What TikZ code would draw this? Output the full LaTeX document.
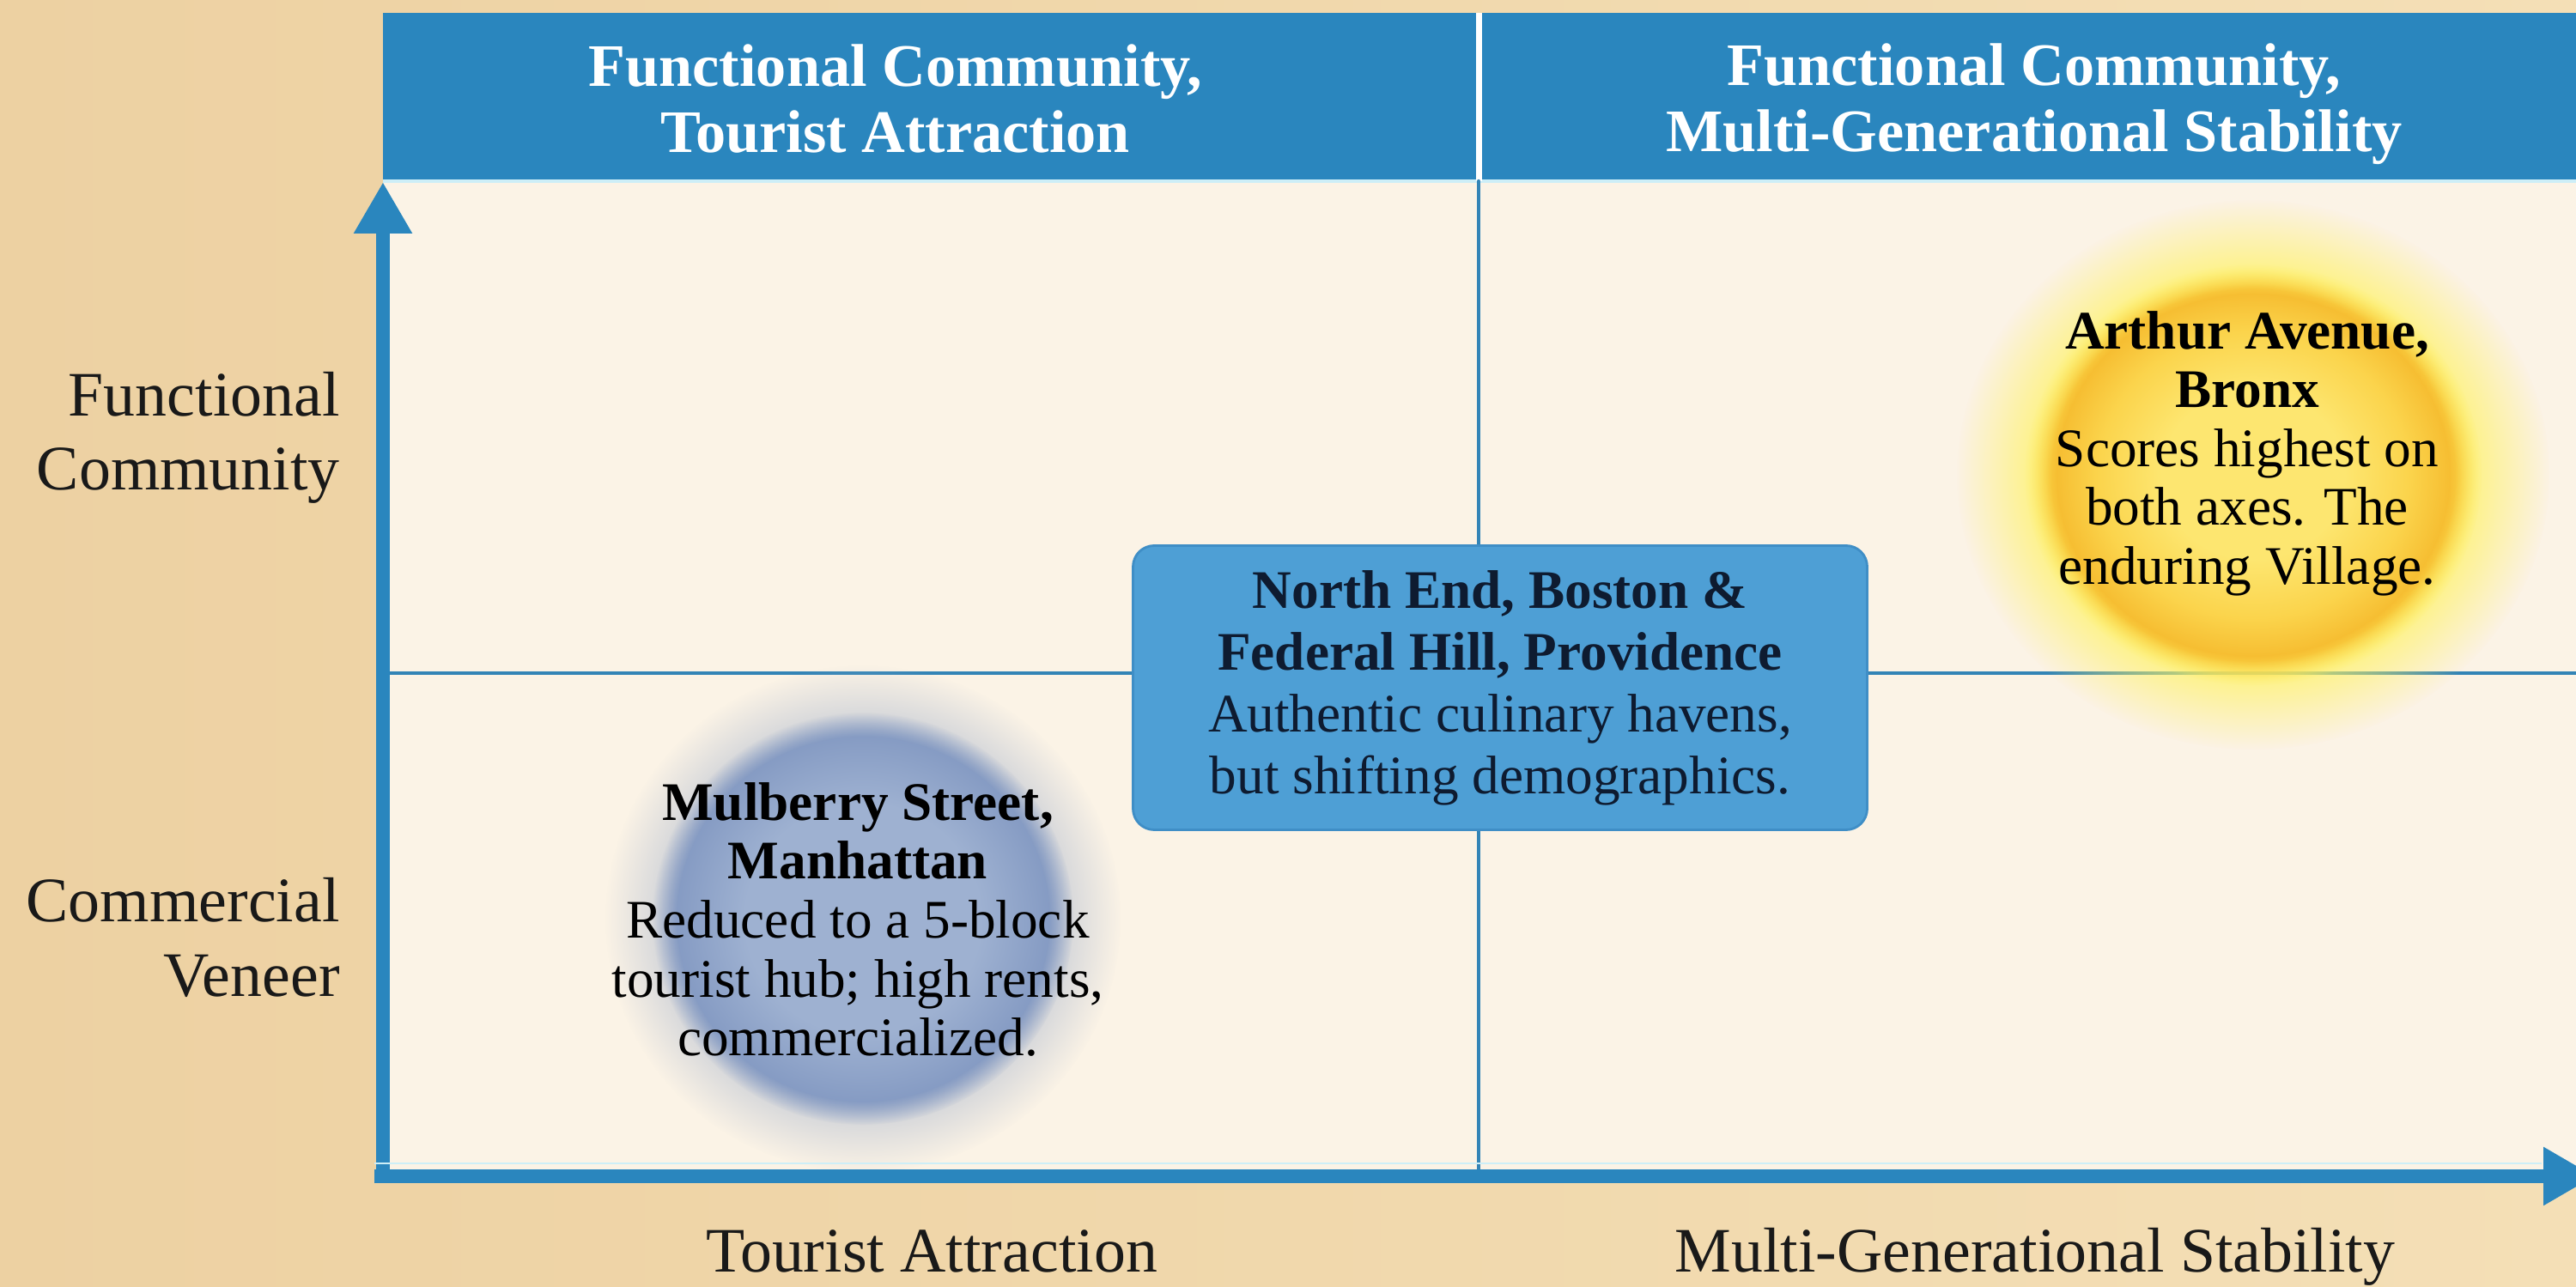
\documentclass[tikz,border=0pt]{standalone}
\usepackage{fontspec}
\setmainfont{Liberation Serif}
\usepackage{tikz}
\usetikzlibrary{arrows.meta,calc,fadings}
\usepackage{tkz-euclide}
\usepackage{xcolor}
\definecolor{ParchDark}{HTML}{EDD1A2}
\definecolor{ParchLight}{HTML}{F4DFB6}
\definecolor{ChartCream}{HTML}{FBF3E6}
\definecolor{ChartBlue}{HTML}{2A86BE}
\definecolor{ChartLine}{HTML}{3384B6}
\definecolor{HeaderRim}{HTML}{CDEEF7}
\definecolor{BoxBlue}{HTML}{4E9FD5}
\definecolor{BoxEdge}{HTML}{3F8EC6}
\definecolor{InkNavy}{HTML}{0E1B30}
\definecolor{SunCore}{HTML}{FDE670}
\definecolor{SunMid}{HTML}{FBD44C}
\definecolor{SunEdge}{HTML}{F6BE32}
\definecolor{SunGlow}{HTML}{FFF260}
\definecolor{MulberryCore}{HTML}{9EB1D1}
\definecolor{MulberryEdge}{HTML}{8399C2}
\pgfdeclareradialshading{softedgeshade}{\pgfpointorigin}{color(0bp)=(pgftransparent!0); color(22bp)=(pgftransparent!0); color(25bp)=(pgftransparent!100); color(50bp)=(pgftransparent!100)}
\pgfdeclarefading{softedge}{\pgfuseshading{softedgeshade}}
\pgfdeclareradialshading{glowedgeshade}{\pgfpointorigin}{color(0bp)=(pgftransparent!0); color(17bp)=(pgftransparent!15); color(25bp)=(pgftransparent!100); color(50bp)=(pgftransparent!100)}
\pgfdeclarefading{glowedge}{\pgfuseshading{glowedgeshade}}
\pgfdeclareradialshading{sundisc}{\pgfpointorigin}{color(0bp)=(SunCore); color(10bp)=(SunCore); color(17bp)=(SunMid); color(21.5bp)=(SunEdge); color(23.5bp)=(SunEdge!50!SunGlow); color(25bp)=(SunGlow); color(50bp)=(SunGlow)}
\pgfdeclareradialshading{mulberrydisc}{\pgfpointorigin}{color(0bp)=(MulberryCore); color(14bp)=(MulberryCore); color(23bp)=(MulberryEdge); color(50bp)=(MulberryEdge)}

\tikzset{
    headtext/.style={align=center,text=white,font=\fontsize{20}{22}\selectfont\bfseries},
    axistext/.style={text=black!90,font=\fontsize{21}{24.5}\selectfont},
    discnote/.style={align=center,text=black,font=\fontsize{18}{19.5}\selectfont},
    centerbox/.style={rounded corners=7pt,fill=BoxBlue,draw=BoxEdge,line width=0.8pt,
        minimum width=8.55cm,minimum height=3.31cm,align=center,text=InkNavy,
        font=\fontsize{18}{20.5}\selectfont},
    axisarrow/.style={ChartBlue,line width=4.3pt,-{Triangle[width=0.64cm,length=0.6cm]}}
}

\begin{document}
\begin{tikzpicture}
    \tkzDefPoint(0,0){SW}
    \tkzDefPoint(30,14.98){NE}
    \tkzDefPoint(4.46,1.28){O}
    \tkzDefPoint(4.46,12.86){Ytop}
    \tkzDefPoint(30.22,1.28){Xend}
    \tkzDefPoint(17.22,1.28){Vbot}
    \tkzDefPoint(17.22,12.87){Vtop}
    \tkzDefPoint(17.22,14.83){Vhead}
    \tkzDefPoint(4.46,7.14){Hleft}
    \tkzDefPoint(30,7.14){Hright}
    \tkzDefPoint(26.24,9.45){Sun}
    \tkzDefPoint(10.05,4.28){Mul}

    \useasboundingbox (SW) rectangle (NE);
    \shade[left color=ParchDark,right color=ParchLight] (SW) rectangle (NE);
    \fill[ChartCream] (O) rectangle (30,12.87);
    \fill[ChartBlue] (4.46,12.87) rectangle (30,14.83);
    \draw[HeaderRim,line width=1pt] (4.46,12.87) -- (30,12.87);
    \draw[white,line width=2pt] (Vtop) -- (Vhead);

    % quadrant dividers
    \tkzDrawSegments[line width=1.2pt,ChartLine](Vbot,Vtop Hleft,Hright)

    % glowing discs
    \fill[SunGlow,path fading=glowedge] (Sun) ellipse (3.45 and 3.2);
    \shade[shading=sundisc,path fading=softedge] (Sun) ellipse (2.66 and 2.45);
    \fill[MulberryEdge!55!ChartCream,path fading=glowedge] (Mul) ellipse (3.0 and 2.95);
    \shade[shading=mulberrydisc,path fading=softedge] (Mul) ellipse (2.45 and 2.4);

    \draw[axisarrow] (O) -- (Ytop);
    \draw[HeaderRim,line width=0.8pt] (4.36,1.43) -- (29.6,1.43);
    \draw[axisarrow] ($(O)+(-0.1,0)$) -- (Xend);

    \node[headtext] (headleft) at (10.43,13.83) {Functional Community,\\Tourist Attraction};
    \node[headtext] (headright) at (23.69,13.77) {Functional Community,\\Multi-Generational Stability};

    \node[axistext,align=right,anchor=east] (yhigh) at (4.08,9.88) {Functional\\Community};
    \node[axistext,align=right,anchor=east] (ylow) at (4.08,4.06) {Commercial\\Veneer};
    \node[axistext,anchor=base] (xleft) at (10.85,0.17) {Tourist Attraction};
    \node[axistext,anchor=base] (xright) at (23.7,0.17) {Multi-Generational Stability};

    \node[centerbox] (northend) at (17.47,6.97) {\textbf{North End, Boston \&}\\\textbf{Federal Hill, Providence}\\Authentic culinary havens,\\but shifting demographics.};
    \node[discnote] (arthur) at (26.17,9.70) {\textbf{Arthur Avenue,}\\\textbf{Bronx}\\Scores highest on\\both axes. The\\enduring Village.};
    \node[discnote] (mulberry) at (9.99,4.27) {\textbf{Mulberry Street,}\\\textbf{Manhattan}\\Reduced to a 5-block\\tourist hub; high rents,\\commercialized.};
\end{tikzpicture}
\end{document}
